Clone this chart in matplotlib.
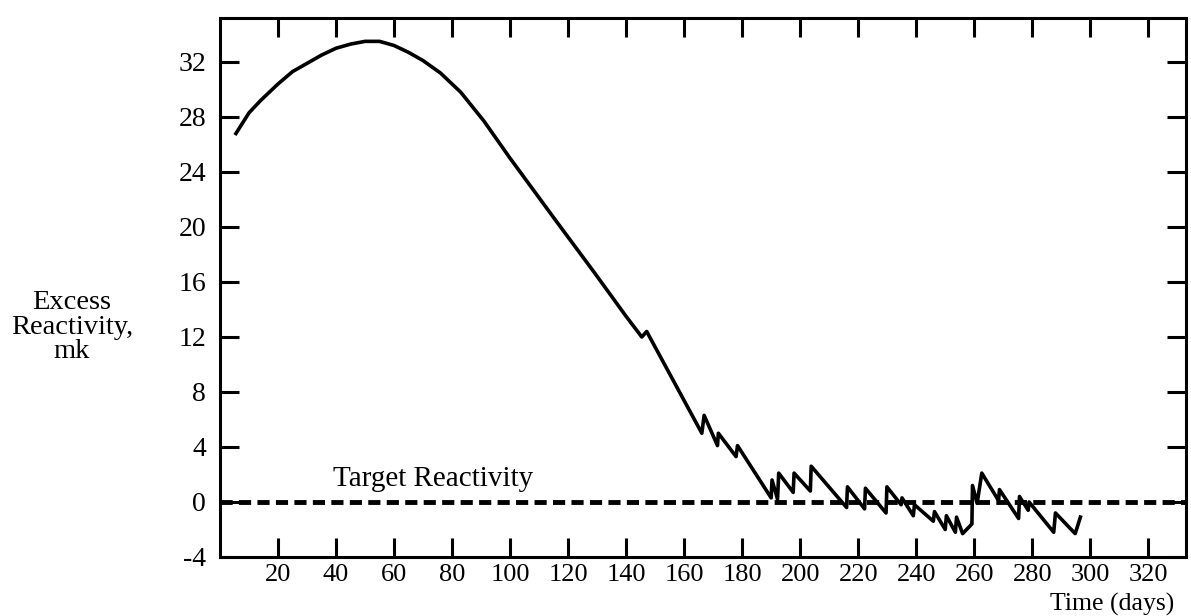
import matplotlib
matplotlib.use("Agg")
import matplotlib.pyplot as plt

plt.rcParams['font.family'] = ['Liberation Serif', 'DejaVu Serif']
plt.rcParams['axes.unicode_minus'] = False

# excess reactivity (mk) against time (days)
days = [5.5, 10, 14, 20, 25, 30, 35, 40, 45, 50, 55, 60, 65, 70, 76, 83, 91, 100,
        116, 129, 140, 145.4, 147.1, 166.1, 166.9, 171.5, 171.8, 177.9, 178.4,
        190.0, 190.3, 192.2, 192.6, 197.6, 197.9, 203.5, 203.8, 216.0, 216.3,
        222.2, 222.5, 229.6, 229.9, 234.8, 235.1, 239.0, 239.4, 245.9, 246.3,
        250.0, 250.4, 253.5, 253.9, 256.0, 259.2, 259.4, 261.0, 262.6, 268.4,
        268.7, 275.3, 275.6, 278.6, 278.9, 287.4, 288.0, 294.8, 296.6]
reactivity = [26.8, 28.3, 29.2, 30.4, 31.3, 31.9, 32.5, 33.0, 33.3, 33.5, 33.5, 33.2,
              32.7, 32.1, 31.2, 29.8, 27.7, 25.0, 20.4, 16.7, 13.5, 12.0, 12.4,
              5.0, 6.3, 4.1, 5.0, 3.3, 4.1, 0.3, 1.6, 0.2, 2.1, 0.7, 2.1, 0.8, 2.6,
              -0.4, 1.1, -0.5, 1.0, -0.8, 1.1, -0.2, 0.3, -1.0, -0.2, -1.4, -0.7,
              -2.0, -1.0, -2.2, -1.1, -2.3, -1.6, 1.2, -0.1, 2.1, 0.1, 0.9, -1.2,
              0.4, -0.6, 0.0, -2.2, -0.8, -2.3, -1.1]
target = 0

x_ticks = list(range(20, 321, 20))
y_ticks = list(range(-4, 33, 4))

fig = plt.figure(figsize=(11.91, 6.16), dpi=100)
ax = fig.add_axes([0.1847, 0.0958, 0.8111, 0.875])

# target level, thick dashed
ax.axhline(target, color='black', lw=3.5, dashes=(2.5, 1.3), dash_capstyle='butt')
ax.plot(days, reactivity, color='black', lw=2.6)

ax.text(39, 0.7, "Target Reactivity", fontsize=21, ha='left', va='bottom')

ax.set_xlim(0, 333)
ax.set_ylim(-4, 35.2)
ax.set_xticks(x_ticks)
ax.set_yticks(y_ticks)
ax.tick_params(direction='in', length=14, width=2.2, top=True, right=True,
               labelsize=20)
ax.tick_params(axis='x', pad=5, labelsize=19)
ax.tick_params(axis='y', pad=10)
for sp in ax.spines.values():
    sp.set_linewidth(2.2)

fig.text(72 / 1191, 1 - 327 / 616, "Excess\nReactivity,\nmk", fontsize=20.5,
         ha='center', va='center', linespacing=0.95)
fig.text(1174 / 1191, 0, "Time (days)", fontsize=18.5,
         ha='right', va='bottom')

fig.savefig("out.png", dpi=100)
